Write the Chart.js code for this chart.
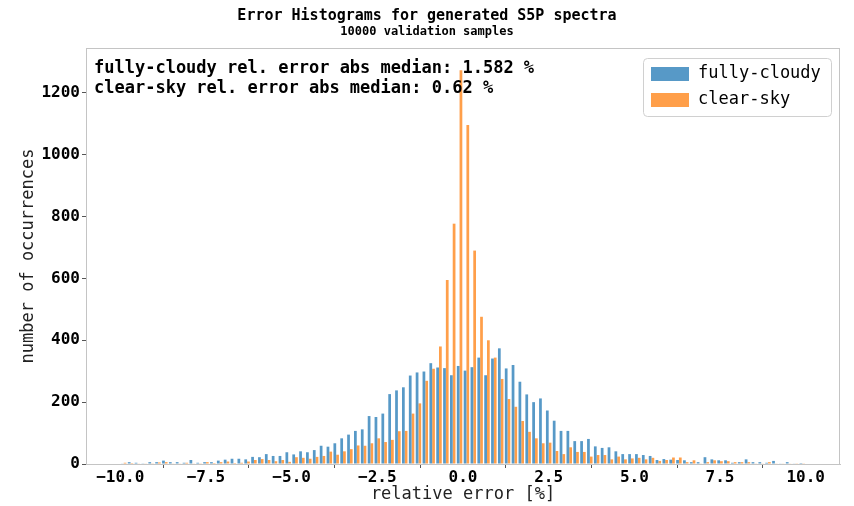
<!DOCTYPE html>
<html><head><meta charset="utf-8">
<script src="https://cdn.jsdelivr.net/npm/chart.js@4.4.1/dist/chart.umd.min.js"></script>
<style>html,body{margin:0;padding:0;background:#fff;} canvas{display:block;}</style>
</head><body>
<canvas id="c" width="854" height="506"></canvas>
<script>
const binCenters = [
 -9.9,-9.7,-9.5,-9.3,-9.1,-8.9,-8.7,-8.5,-8.3,-8.1,
 -7.9,-7.7,-7.5,-7.3,-7.1,-6.9,-6.7,-6.5,-6.3,-6.1,
 -5.9,-5.7,-5.5,-5.3,-5.1,-4.9,-4.7,-4.5,-4.3,-4.1,
 -3.9,-3.7,-3.5,-3.3,-3.1,-2.9,-2.7,-2.5,-2.3,-2.1,
 -1.9,-1.7,-1.5,-1.3,-1.1,-0.9,-0.7,-0.5,-0.3,-0.1,
 0.1,0.3,0.5,0.7,0.9,1.1,1.3,1.5,1.7,1.9,
 2.1,2.3,2.5,2.7,2.9,3.1,3.3,3.5,3.7,3.9,
 4.1,4.3,4.5,4.7,4.9,5.1,5.3,5.5,5.7,5.9,
 6.1,6.3,6.5,6.7,6.9,7.1,7.3,7.5,7.7,7.9,
 8.1,8.3,8.5,8.7,8.9,9.1,9.3,9.5,9.7,9.9
];
const fullyCloudy = [
 2,6,4,1,6,6,11,6,6,4,
 13,4,6,6,11,14,17,17,15,23,
 22,32,26,26,38,31,41,38,45,59,
 56,67,83,95,107,112,155,152,163,226,
 238,248,286,296,299,326,312,310,287,317,
 302,313,344,287,341,374,309,320,266,225,
 200,212,173,140,107,107,74,74,81,57,
 52,54,41,32,32,32,29,26,13,16,
 14,13,12,6,6,22,15,12,12,4,
 6,15,6,6,4,10,2,6,2,3
];
const clearSky = [
 4,3,2,2,1,5,6,2,2,4,
 2,1,6,3,6,8,3,4,8,13,
 16,13,9,13,7,22,20,17,23,26,
 40,30,41,48,60,59,67,83,71,78,
 106,107,163,196,269,308,380,595,777,1273,
 1096,690,476,400,344,275,210,185,139,104,
 83,67,69,42,32,54,39,39,24,29,
 29,15,24,15,18,20,15,20,10,13,
 21,21,6,12,2,6,12,9,9,6,
 6,6,2,2,6,2,2,2,1,1
];
const xTickValues = [-10,-7.5,-5,-2.5,0,2.5,5,7.5,10];
const xTickLabels = ['\u221210.0','\u22127.5','\u22125.0','\u22122.5','0.0','2.5','5.0','7.5','10.0'];
const yTickValues = [0,200,400,600,800,1000,1200];
const yTickLabels = ['0','200','400','600','800','1000','1200'];
const seriesNames = ['fully-cloudy','clear-sky'];
const medianTexts = ['fully-cloudy rel. error abs median: 1.582 %','clear-sky rel. error abs median: 0.62 %'];
const titleText = 'Error Histograms for generated S5P spectra';
const subtitleText = '10000 validation samples';
const xLabel = 'relative error [%]';
const yLabel = 'number of occurrences';

const colors = ['#5799c7', '#ff9f4a'];
const MONO = "'DejaVu Sans Mono', monospace";

const overlay = {
  id: 'overlay',
  afterDraw(chart) {
    const ctx = chart.ctx;
    const a = chart.chartArea;
    ctx.save();
    // frame
    ctx.strokeStyle = '#c4c4c4';
    ctx.lineWidth = 1;
    ctx.strokeRect(Math.round(a.left) + 0.5, Math.round(a.top) + 0.5, Math.round(a.right - a.left) - 1, Math.round(a.bottom - a.top));
    // titles
    ctx.fillStyle = '#000';
    ctx.textAlign = 'center';
    ctx.textBaseline = 'middle';
    ctx.font = 'bold 15px ' + MONO;
    ctx.fillText(titleText, 427, 16);
    ctx.font = 'bold 12px ' + MONO;
    ctx.fillText(subtitleText, 427, 32);
    // median annotations
    ctx.textAlign = 'left';
    ctx.font = 'bold 17px ' + MONO;
    ctx.fillText(medianTexts[0], a.left + 8, 69);
    ctx.fillText(medianTexts[1], a.left + 8, 89);
    // legend
    const lx = 643, ly = 58, lw = 188, lh = 58;
    ctx.fillStyle = 'rgba(255,255,255,0.85)';
    ctx.strokeStyle = '#d0d0d0';
    ctx.beginPath();
    ctx.roundRect(lx + 0.5, ly + 0.5, lw, lh, 4);
    ctx.fill();
    ctx.stroke();
    ctx.font = '17px ' + MONO;
    for (let i = 0; i < seriesNames.length; i++) {
      const cy = ly + 16 + i * 26;
      ctx.fillStyle = colors[i];
      ctx.fillRect(lx + 8, cy - 7, 38, 14);
      ctx.fillStyle = '#000';
      ctx.fillText(seriesNames[i], lx + 55, cy);
    }
    ctx.restore();
  }
};

new Chart(document.getElementById('c'), {
  type: 'bar',
  data: {
    datasets: [
      { label: seriesNames[0], data: binCenters.map((x, i) => ({x: x, y: fullyCloudy[i]})), backgroundColor: colors[0], borderWidth: 0 },
      { label: seriesNames[1], data: binCenters.map((x, i) => ({x: x, y: clearSky[i]})), backgroundColor: colors[1], borderWidth: 0 }
    ]
  },
  options: {
    responsive: false,
    animation: false,
    categoryPercentage: 0.8,
    barPercentage: 1.0,
    layout: { padding: { left: 0, right: 14, top: 48, bottom: 0 } },
    plugins: { legend: { display: false }, tooltip: { enabled: false }, title: { display: false } },
    scales: {
      x: {
        type: 'linear', min: -11, max: 11, offset: false,
        grid: { display: true, drawOnChartArea: false, drawTicks: true, tickLength: 4, color: '#555', tickWidth: 1 },
        border: { display: true, color: '#c4c4c4' },
        afterBuildTicks: s => { s.ticks = xTickValues.map(v => ({ value: v })); },
        ticks: {
          callback: (v, i) => xTickLabels[i],
          font: { family: MONO, size: 16, weight: 'bold' }, color: '#000',
          padding: 0, maxRotation: 0, autoSkip: false
        },
        title: { display: true, text: xLabel, font: { family: MONO, size: 17, lineHeight: 1.2 }, color: '#222', padding: { top: 0, bottom: 1 } },
        afterFit: s => { s.height = 42; }
      },
      y: {
        min: 0, max: 1345,
        grid: { display: true, drawOnChartArea: false, drawTicks: true, tickLength: 4, color: '#555', tickWidth: 1 },
        border: { display: true, color: '#c4c4c4' },
        afterBuildTicks: s => { s.ticks = yTickValues.map(v => ({ value: v })); },
        ticks: {
          callback: (v, i) => yTickLabels[i],
          font: { family: MONO, size: 16, weight: 'bold' }, color: '#000',
          padding: 2, autoSkip: false
        },
        title: { display: true, text: yLabel, font: { family: MONO, size: 17, lineHeight: 1.2 }, color: '#222', padding: { top: 18, bottom: 0 } },
        afterFit: s => { s.width = 86; }
      }
    }
  },
  plugins: [overlay]
});
</script>
</body></html>
